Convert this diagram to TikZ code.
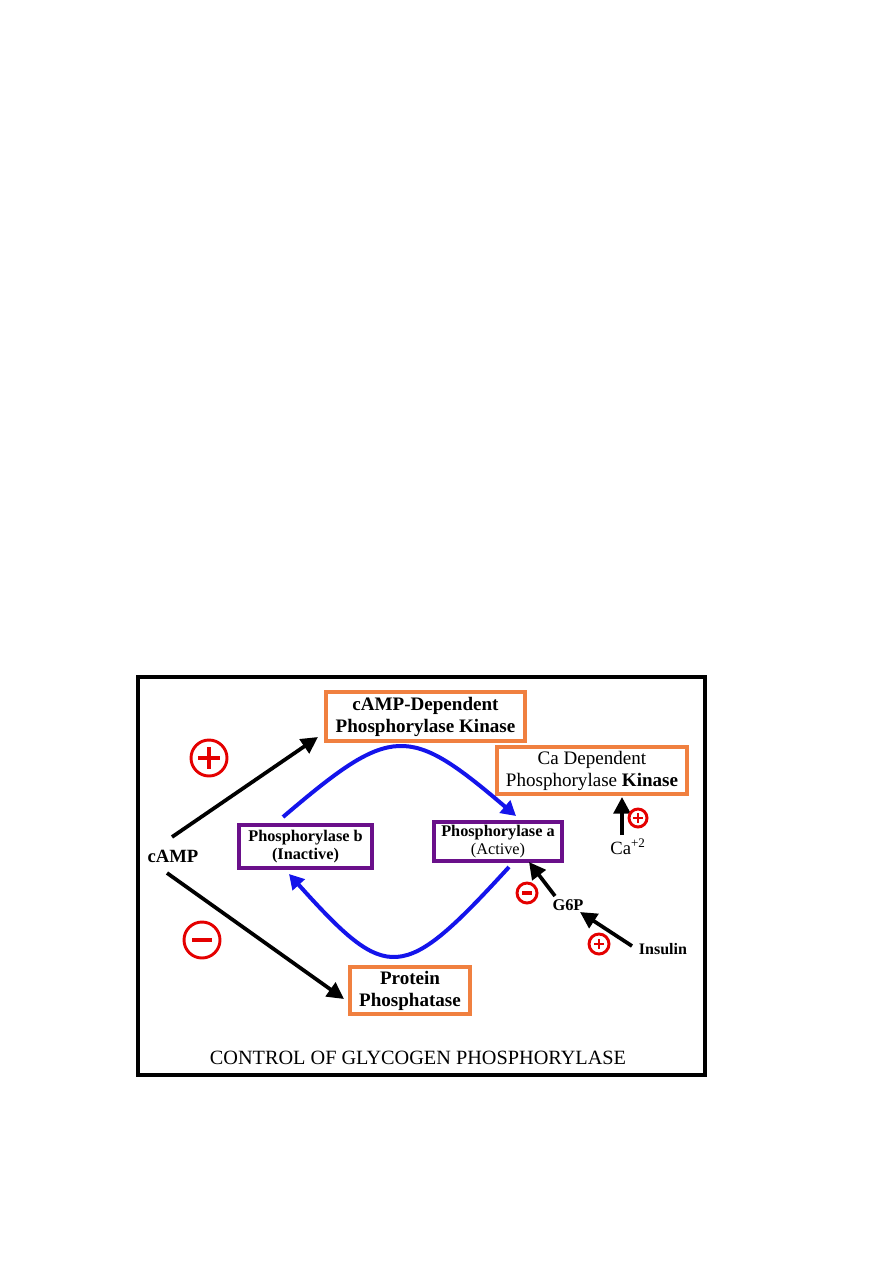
\documentclass[tikz,border=0pt]{standalone}
\usepackage{fontspec}
\setmainfont{Liberation Serif}
\usetikzlibrary{arrows.meta}
\definecolor{boxorange}{RGB}{240,128,64}
\definecolor{boxpurple}{RGB}{106,16,138}
\definecolor{signred}{RGB}{228,0,0}
\definecolor{cycleblue}{RGB}{20,20,235}
\begin{document}
\begin{tikzpicture}[x=0.75pt,y=-0.75pt,
  obox/.style={draw=boxorange,line width=2.6pt,fill=white,inner sep=0pt,align=center},
  pbox/.style={draw=boxpurple,line width=2.6pt,fill=white,inner sep=0pt,align=center},
  bigtxt/.style={font=\fontsize{14.3}{16.5}\selectfont},
  smalltxt/.style={font=\fontsize{12.2}{13.5}\selectfont},
  blkarrow/.style={line width=2.8pt,-{Triangle[length=12.5pt,width=12.5pt]}},
  bluearrow/.style={draw=cycleblue,line width=3pt,-{Triangle[length=11pt,width=12pt]}},
  bigsign/.style={circle,draw=signred,line width=2.2pt,minimum size=27pt,inner sep=0pt},
  smallsign/.style={circle,draw=signred,line width=2.2pt,minimum size=15pt,inner sep=0pt},
  signbar/.style={draw=signred,line width=2.4pt},
]
\useasboundingbox (0,0) rectangle (893,1263);
% outer frame
\draw[line width=3pt] (138,677) rectangle (705,1075);

% boxes
\node[obox,bigtxt,minimum width=149pt,minimum height=36.8pt] (kinA) at (425.5,716.5)
  {\textbf{cAMP-Dependent}\\\textbf{Phosphorylase Kinase}};
\node[obox,bigtxt,minimum width=142.5pt,minimum height=35.3pt] (kinCa) at (592,770.5)
  {Ca Dependent\\Phosphorylase \textbf{Kinase}};
\node[pbox,smalltxt,minimum width=99.8pt,minimum height=32.3pt] (phb) at (305.5,846.5)
  {\textbf{Phosphorylase b}\\\textbf{(Inactive)}};
\node[pbox,smalltxt,minimum width=96pt,minimum height=29.3pt] (pha) at (498,841.5)
  {\textbf{Phosphorylase a}\\(Active)};
\node[obox,bigtxt,minimum width=90pt,minimum height=35.3pt] (ppase) at (410,990.5)
  {\textbf{Protein}\\\textbf{Phosphatase}};

% labels
\node[font=\fontsize{14}{16}\selectfont\bfseries,inner sep=0pt] (camp) at (173,856) {cAMP};
\node[font=\fontsize{12.3}{14}\selectfont\bfseries,inner sep=0pt] (g6p) at (568,905) {G6P};
\node[font=\fontsize{12}{14}\selectfont\bfseries,inner sep=0pt] (ins) at (663,949) {Insulin};
\node[font=\fontsize{14}{16}\selectfont,inner sep=0pt] (ca) at (628,847) {Ca\textsuperscript{+2}};
\node[font=\fontsize{15.2}{17}\selectfont,inner sep=0pt] (title) at (418,1058)
  {CONTROL OF GLYCOGEN PHOSPHORYLASE};

% arrow end coordinates
\coordinate (campUp) at (172,837);
\coordinate (kinAtip) at (318,737);
\coordinate (campDn) at (167,873);
\coordinate (ppasetip) at (344,999);
\coordinate (phbOut) at (283,817);
\coordinate (phaIn) at (516,816);
\coordinate (phaOut) at (509,867);
\coordinate (phbIn) at (289,874);
\coordinate (caStart) at (622,835);
\coordinate (caTip) at (622,797);
\coordinate (g6pStart) at (555,896);
\coordinate (phaTip) at (529,862);
\coordinate (insStart) at (632,946);
\coordinate (g6pTip) at (580,912);

% black arrows
\draw[blkarrow] (campUp) -- (kinAtip);
\draw[blkarrow] (campDn) -- (ppasetip);
\draw[blkarrow] (caStart) -- (caTip);
\draw[blkarrow] (g6pStart) -- (phaTip);
\draw[blkarrow] (insStart) -- (g6pTip);

% blue cycle
\draw[bluearrow] (phbOut) .. controls (392,724) and (408,724) .. (phaIn);
\draw[bluearrow] (phaOut) .. controls (402,984) and (388,984) .. (phbIn);

% signs
\node[bigsign] (plusA) at (209,758) {};
\draw[signbar] (plusA.center) ++(-11,0) -- ++(22,0);
\draw[signbar] (plusA.center) ++(0,-11) -- ++(0,22);
\node[bigsign] (minusA) at (202,940) {};
\draw[signbar,line width=3pt] (minusA.center) ++(-10,0) -- ++(20,0);
\node[smallsign] (minusG) at (527,893) {};
\draw[signbar,line width=3pt] (minusG.center) ++(-5,0) -- ++(10,0);
\node[smallsign] (plusI) at (599,944) {};
\draw[signbar,line width=1.8pt] (plusI.center) ++(-5,0) -- ++(10,0);
\draw[signbar,line width=1.8pt] (plusI.center) ++(0,-5) -- ++(0,10);
\node[smallsign,minimum size=13.5pt] (plusC) at (638,818) {};
\draw[signbar,line width=1.8pt] (plusC.center) ++(-5,0) -- ++(10,0);
\draw[signbar,line width=1.8pt] (plusC.center) ++(0,-5) -- ++(0,10);
\end{tikzpicture}
\end{document}
